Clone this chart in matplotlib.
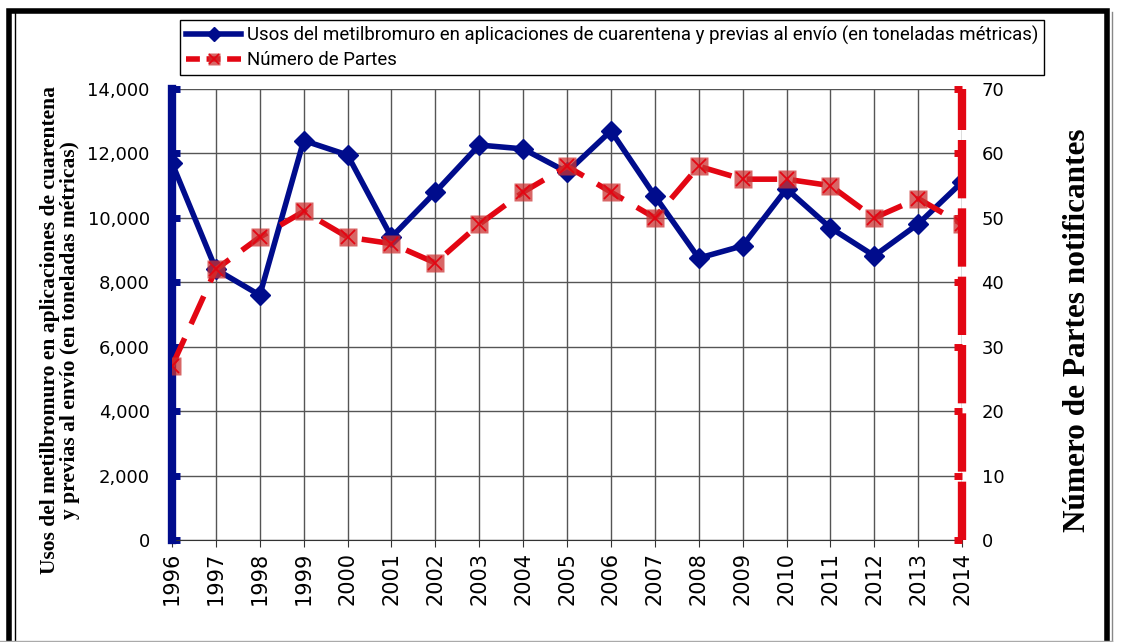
import numpy as np
import matplotlib.pyplot as plt
from matplotlib.lines import Line2D
from matplotlib.patches import Rectangle
from matplotlib.ticker import FuncFormatter

years = [str(y) for y in range(1996, 2015)]
usos = [11700, 8400, 7600, 12400, 11950, 9400, 10800, 12260, 12140, 11420,
        12700, 10680, 8750, 9130, 10900, 9690, 8820, 9810, 11110]
partes = [27, 42, 47, 51, 47, 46, 43, 49, 54, 58, 54, 50, 58, 56, 56, 55, 50, 53, 49]

label_usos = 'Usos del metilbromuro en aplicaciones de cuarentena y previas al envío (en toneladas métricas)'
label_partes = 'Número de Partes'

BLUE = '#000C8C'
RED = '#E30613'
tick_font = 'DejaVu Sans'
serif = ['Liberation Serif', 'DejaVu Serif']


def main():
    fig = plt.figure(figsize=(11.28, 6.42), dpi=100)
    ax = fig.add_axes([0.1525, 0.1589, 0.7004, 0.7025])
    ax2 = ax.twinx()

    x = np.arange(len(years))

    # grid
    ax.set_xlim(0, len(years) - 1)
    ax.set_ylim(0, 14000)
    ax.set_yticks(np.arange(0, 14001, 2000))
    ax.set_xticks(x)
    ax.grid(True, color='#555555', linewidth=1.0)
    ax.set_axisbelow(True)

    ax.plot(x, usos, color=BLUE, linewidth=4, marker='D', markersize=10, zorder=4)

    ax2.set_ylim(0, 70)
    ax2.set_yticks(np.arange(0, 71, 10))
    ax2.plot(x, partes, color=RED, linewidth=4, linestyle=(0, (5.5, 2.8)), zorder=3)
    ax2.plot(x, partes, linestyle='none', marker='s', markersize=13,
             markerfacecolor=(0.8, 0.2, 0.2, 0.75), markeredgecolor='none', zorder=4)
    ax2.plot(x, partes, linestyle='none', marker='x', markersize=10,
             markeredgecolor=RED, markeredgewidth=1.3, zorder=5)

    for a in (ax, ax2):
        for s in ('top', 'bottom', 'left', 'right'):
            a.spines[s].set_visible(False)
    ax.spines['bottom'].set_visible(True)
    ax.spines['bottom'].set_color('#333333')

    # thick coloured axis lines
    ax.axvline(0, color=BLUE, linewidth=6, zorder=6, clip_on=False)
    ax2.axvline(len(years) - 1, color=RED, linewidth=6, linestyle=(0, (7, 1.2)),
                zorder=6, clip_on=False)

    ax.tick_params(axis='y', direction='in', length=6, width=5, color=BLUE, pad=16,
                   labelsize=13, labelfontfamily=tick_font)
    ax2.tick_params(axis='y', direction='in', length=6, width=5, color=RED, pad=14,
                    labelsize=13, labelfontfamily=tick_font)
    ax.tick_params(axis='x', length=5, color='#333333', labelsize=15, rotation=90,
                   labelfontfamily=tick_font)
    ax.set_xticklabels(years)
    ax.yaxis.set_major_formatter(FuncFormatter(lambda v, p: f'{int(v):,}'))

    ax.set_ylabel('Usos del metilbromuro en aplicaciones de cuarentena\n'
                  'y previas al envío (en toneladas métricas)',
                  family=serif, fontweight='bold', fontsize=15.5,
                  linespacing=1.05)
    ax.yaxis.set_label_coords(-0.116, 0.466)
    ax2.set_ylabel('Número de Partes notificantes', family=serif, fontweight='bold',
                   fontsize=22.5)
    ax2.yaxis.set_label_coords(1.128, 0.466)

    handles = [
        Line2D([], [], color=BLUE, linewidth=4, marker='D', markersize=7),
        (Line2D([], [], color=RED, linewidth=4, linestyle=(0, (2.5, 1.2))),
         Line2D([], [], linestyle='none', marker='s', markersize=9,
                markerfacecolor=(0.8, 0.2, 0.2, 0.75), markeredgecolor='none'),
         Line2D([], [], linestyle='none', marker='x', markersize=7,
                markeredgecolor=RED, markeredgewidth=1.2)),
    ]
    leg = fig.legend(handles, [label_usos, label_partes], loc='upper left',
                     bbox_to_anchor=(0.1596, 0.969), borderaxespad=0,
                     frameon=True, fancybox=False,
                     edgecolor='black', framealpha=1,
                     prop={'family': ['Roboto', 'DejaVu Sans'], 'size': 13.4},
                     handlelength=3.0, handletextpad=0.3, borderpad=0.3,
                     labelspacing=0.35)
    leg.get_frame().set_linewidth(1.0)

    # page frame
    fig.patches.append(Rectangle((9 / 1128, -0.01), (1107 - 9) / 1128, 1.01 - 11 / 642,
                                 transform=fig.transFigure, fill=False,
                                 edgecolor='black', linewidth=4))
    fig.lines.append(Line2D([15 / 1128, 15 / 1128], [0, 1 - 13 / 642],
                            transform=fig.transFigure, color='black', linewidth=1))
    fig.lines.append(Line2D([1112 / 1128, 1112 / 1128], [0, 1 - 12 / 642],
                            transform=fig.transFigure, color='#888888', linewidth=1))
    fig.lines.append(Line2D([0, 1112 / 1128], [1 / 642, 1 / 642],
                            transform=fig.transFigure, color='#aaaaaa', linewidth=1))

    fig.savefig('out.png', dpi=100)


if __name__ == '__main__':
    main()
